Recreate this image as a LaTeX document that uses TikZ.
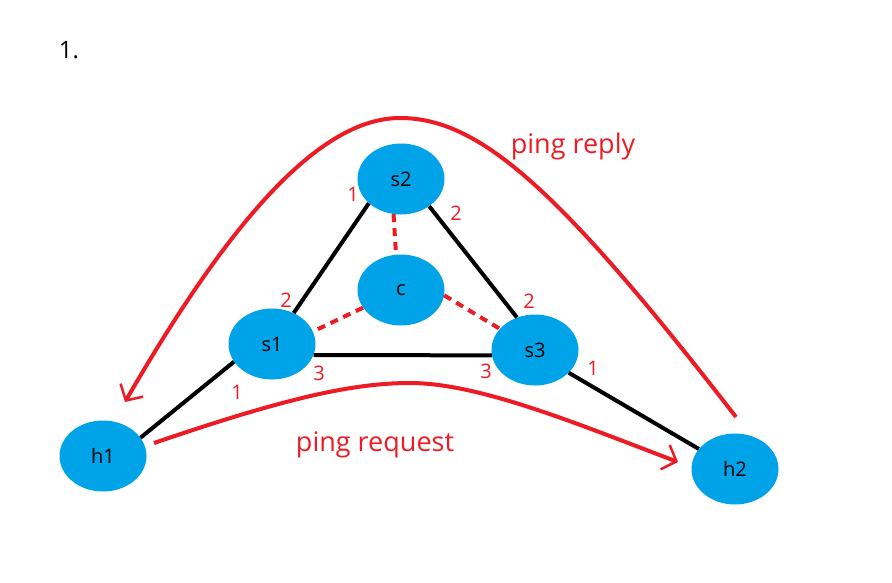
\documentclass[tikz,border=0pt]{standalone}
\usepackage{fontspec}
\setmainfont{Open Sans}
\usetikzlibrary{shapes.geometric,arrows.meta}
\definecolor{paintblue}{HTML}{00A2E8}
\definecolor{paintred}{HTML}{ED1C24}
\begin{document}
\begin{tikzpicture}[x=1pt,y=-1pt,
  dev/.style={ellipse,fill=paintblue,minimum width=87pt,minimum height=71pt,inner sep=0pt,font=\fontsize{20}{22}\selectfont},
  link/.style={line width=4pt,black},
  ctrl/.style={line width=4pt,paintred,dash pattern=on 8pt off 6pt},
  port/.style={text=paintred,font=\fontsize{20}{22}\selectfont},
  flow/.style={line width=4pt,paintred,-{Straight Barb[length=12pt,width=26pt,line width=2.5pt]}},
  msg/.style={text=paintred,font=\fontsize{27}{30}\selectfont}]
\useasboundingbox (0,0) rectangle (892,582);
\node[font=\fontsize{24}{28}\selectfont] (num) at (69,50) {1.};
% switches, controller and hosts
\node[dev] (s2) at (401,179) {s2};
\node[dev] (c) at (401,290) {c};
\node[dev] (s1) at (272,344) {s1};
\node[dev] (s3) at (535,350) {s3};
\node[dev] (h1) at (103,456) {h1};
\node[dev] (h2) at (735,469) {h2};
\draw[link] (s2.217) -- (s1.55);
\draw[link] (s2.316) -- (s3.119);
\draw[link] (s1.345) -- (s3.187);
\draw[link] (h1.26) -- (s1.205);
\draw[link] (s3.326) -- (h2.151);
\draw[ctrl] (s2.258) -- (c.98);
\draw[ctrl] (c.205) -- (s1.17);
\draw[ctrl] (c.353) -- (s3.149);
\foreach \x/\y/\n [count=\i] in {353/194/1,456/213/2,286/300/2,319/373/3,237/392/1,529/301/2,486/371/3,593/368/1} % port numbers
\node[port] (port\i) at (\x,\y) {\n};
% ping paths
\coordinate (reqa) at (154,443);
\coordinate (reqb) at (678,462);
\coordinate (repa) at (736,417);
\coordinate (repb) at (125,402);
\draw[flow] (reqa) .. controls (280,400) and (350,383) .. (410,383) .. controls (480,383) and (580,425) .. (reqb);
\draw[flow] (repa) .. controls (560,190) and (480,118) .. (400,118) .. controls (320,118) and (230,220) .. (repb);
\node[msg] (reply) at (573,146) {ping reply};
\node[msg] (request) at (375,445) {ping request};
\end{tikzpicture}
\end{document}
